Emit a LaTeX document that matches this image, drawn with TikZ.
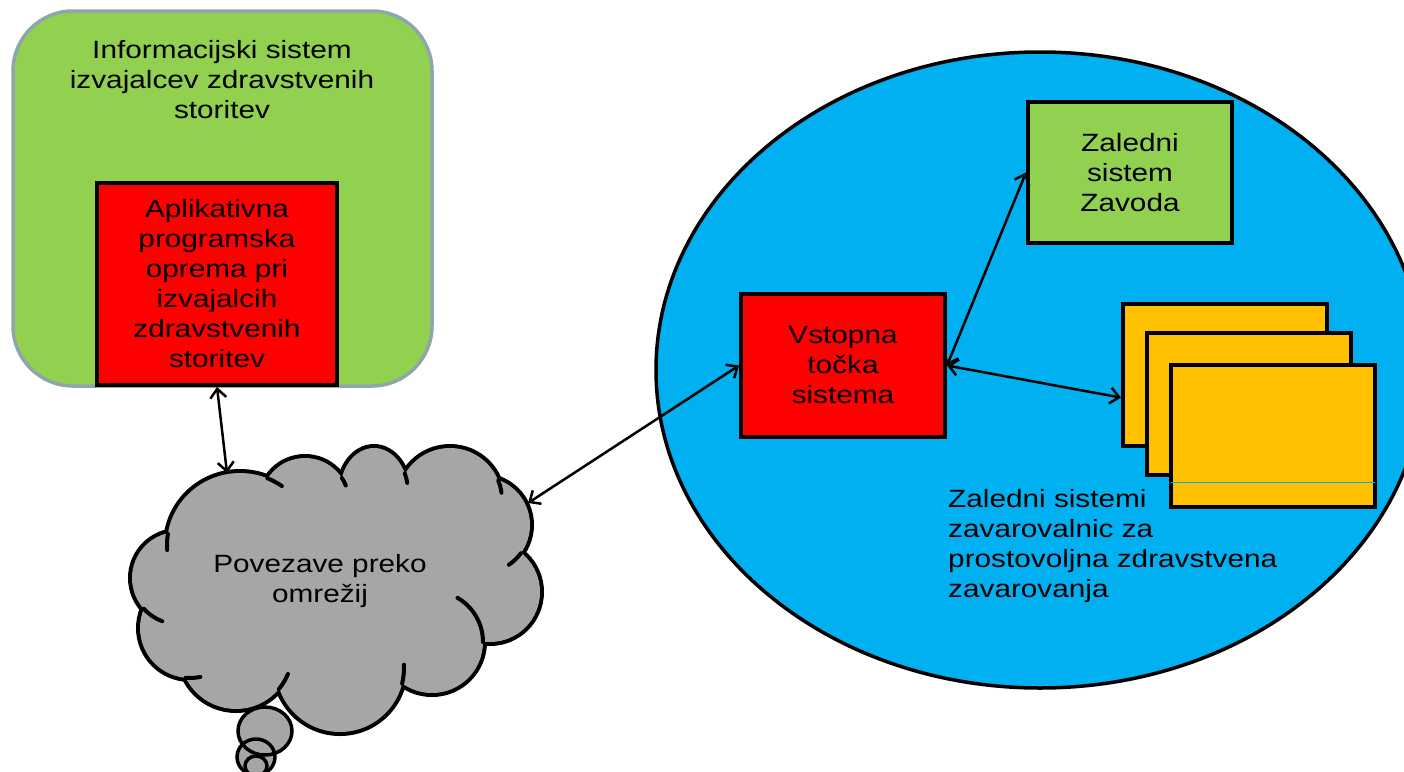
\documentclass[tikz,border=0pt]{standalone}
\usepackage{fontspec}
\newfontfamily\wide[FakeStretch=1.19]{Liberation Sans}
\usetikzlibrary{arrows.meta,calc}
\definecolor{pgreen}{HTML}{92D050}
\definecolor{pred}{HTML}{FF0000}
\definecolor{pblue}{HTML}{00B0F0}
\definecolor{pyellow}{HTML}{FFC000}
\definecolor{pgray}{HTML}{A6A6A6}
\definecolor{pborder}{HTML}{8FA5AE}
\tikzset{
  txt/.style={font=\wide\fontsize{25}{30}\selectfont, text=black, inner sep=0pt, align=center},
  boxnode/.style={draw=black, line width=4pt, inner sep=0pt, font=\wide\fontsize{25}{30}\selectfont, align=center},
  link/.style={line width=2.5pt, draw=black, {Straight Barb[length=9pt,width=16pt]}-{Straight Barb[length=9pt,width=16pt]}},
  stub/.style={line width=4pt, line cap=round, draw=black}
}
\newcommand\cstub[6]{\draw[stub] (#1,#2) ++(#5:#3pt and #4pt) arc[start angle=#5, end angle=#6, x radius=#3pt, y radius=#4pt];}
\begin{document}
\begin{tikzpicture}[x=1pt,y=-1pt]
\useasboundingbox (0,0) rectangle (1404,771);
\clip (0,0) rectangle (1404,771);

% left green container
\draw[pborder, line width=3.5pt, fill=pgreen, rounded corners=60pt] (13,11) rectangle (432,386);
\node[txt] (title) at (222,80) {Informacijski sistem\\izvajalcev zdravstvenih\\storitev};
\node[boxnode, fill=pred, minimum width=240pt, minimum height=202pt] (app) at (217,284)
  {Aplikativna\\programska\\oprema pri\\izvajalcih\\zdravstvenih\\storitev};

% blue ellipse
\draw[black, line width=3.5pt, fill=pblue] (1040,370) ellipse [x radius=384pt, y radius=318pt];

\node[boxnode, fill=pred, minimum width=204pt, minimum height=143pt] (vt) at (843,365.5) {Vstopna\\točka\\sistema};
\node[boxnode, fill=pgreen, minimum width=204pt, minimum height=141pt] (zz) at (1130,172.5) {Zaledni\\sistem\\Zavoda};

\node[boxnode, fill=pyellow, minimum width=204pt, minimum height=142pt] (y1) at (1225,375) {};
\node[boxnode, fill=pyellow, minimum width=204pt, minimum height=142pt] (y2) at (1249,404) {};
\node[boxnode, fill=pyellow, minimum width=204pt, minimum height=142pt] (y3) at (1273,436) {};
\draw[pblue, line width=0.8pt] ($(y3.west)+(2,46)$) -- ($(y3.east)+(-2,46)$);

\node[txt, align=left, anchor=north west] (zs) at (948,489)
  {Zaledni sistemi\\zavarovalnic za\\prostovoljna zdravstvena\\zavarovanja};

% cloud
\def\bumps{240/545/73/72, 305/502/44/44, 374/492/34/44, 450/500/52/52, 482/525/48/48,
  490/592/50/50, 432/642/51/51, 340/668/64/64, 236/653/56/56, 190/628/50/50, 178/578/46/46,
  320/580/150/80}
\foreach \cx/\cy/\rx/\ry in \bumps {
  \draw[black, line width=8pt] (\cx,\cy) ellipse [x radius=\rx pt, y radius=\ry pt];
}
\foreach \cx/\cy/\rx/\ry in \bumps {
  \fill[pgray] (\cx,\cy) ellipse [x radius=\rx pt, y radius=\ry pt];
}
\cstub{240}{545}{73}{72}{171}{184}
\cstub{240}{545}{73}{72}{68}{55}
\cstub{305}{502}{44}{44}{33}{22}
\cstub{374}{492}{34}{44}{25}{12}
\cstub{450}{500}{52}{52}{22}{8}
\cstub{482}{525}{48}{48}{-36}{-56}
\cstub{432}{642}{51}{51}{0}{60}
\cstub{340}{668}{64}{64}{-14}{3}
\cstub{236}{653}{56}{56}{-40}{-22}
\cstub{190}{628}{50}{50}{265}{282}
\cstub{178}{578}{46}{46}{222}{250}
\node[txt] (cloud) at (320,581) {Povezave preko\\omrežij};

% thought tail
\fill[pgray] (265,731) ellipse [x radius=27pt, y radius=24pt];
\fill[pgray] (256,757) ellipse [x radius=19pt, y radius=18pt];
\fill[pgray] (256,766) ellipse [x radius=11pt, y radius=10pt];
\draw[black, line width=3.5pt] (265,731) ellipse [x radius=27pt, y radius=24pt];
\draw[black, line width=3.5pt] (256,757) ellipse [x radius=19pt, y radius=18pt];
\draw[black, line width=3.5pt] (256,766) ellipse [x radius=11pt, y radius=10pt];

% connectors
\coordinate (ctop) at (227,473);
\coordinate (cright) at (528,503);
\draw[link] (app.south) -- (ctop);
\draw[link] (cright) -- (vt.west);
\draw[link] (vt.east) -- (zz.west);
\draw[link] (vt.east) -- ($(y1.north west)!0.655!(y1.south west)$);
\end{tikzpicture}
\end{document}
